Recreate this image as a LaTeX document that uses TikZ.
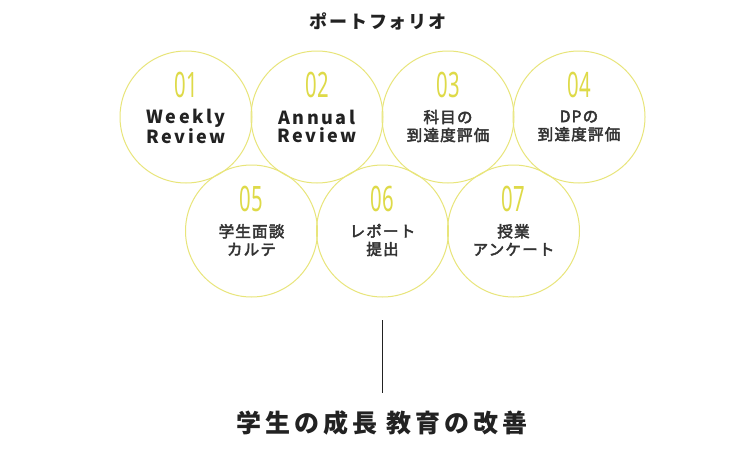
\documentclass[tikz,border=0pt]{standalone}
\usepackage{fontspec}
\usepackage{graphicx}
\setmainfont{Noto Sans CJK JP}
\newfontfamily\jp{Noto Sans CJK JP}
\newfontfamily\jpm{Noto Sans CJK JP}[FakeBold=3]
\newfontfamily\numf{Noto Sans}
\definecolor{ringc}{HTML}{E8E57A}
\definecolor{numc}{HTML}{DEDA48}
\definecolor{txtc}{HTML}{222222}
\definecolor{jtxtc}{HTML}{333333}
\newcommand{\numtxt}[1]{\scalebox{0.58}[1]{#1}}
\begin{document}
\begin{tikzpicture}[x=1pt,y=-1pt,
  ring/.style={circle, draw=ringc, line width=1pt, minimum size=132pt, inner sep=0pt},
  numlbl/.style={text=numc, inner sep=0pt, font=\numf\fontsize{35}{35}\selectfont},
  jlbl/.style={text=jtxtc, inner sep=0pt, align=center, font=\jpm\fontsize{15.5}{18}\selectfont\addfontfeature{LetterSpace=8}},
  elbl/.style={text=txtc, inner sep=0pt, align=center, font=\jp\bfseries\fontsize{18}{18}\selectfont\addfontfeature{LetterSpace=14}},
  ttl/.style={text=txtc, inner sep=0pt, font=\jp\bfseries\fontsize{18}{18}\selectfont\addfontfeature{LetterSpace=11}},
  goal/.style={text=txtc, inner sep=0pt, font=\jp\bfseries\fontsize{25}{25}\selectfont\addfontfeature{LetterSpace=16}},
  conn/.style={draw=txtc, line width=0.9pt}]
\useasboundingbox (0,0) rectangle (750,450);
\fill[white] (0,0) rectangle (750,450);

\node[ttl] (title) at (378,21) {ポートフォリオ};

\node[ring] (c1) at (186,117) {};
\node[ring] (c2) at (317,117) {};
\node[ring] (c3) at (448,117) {};
\node[ring] (c4) at (579,117) {};
\node[ring] (c5) at (251.5,231) {};
\node[ring] (c6) at (382.5,231) {};
\node[ring] (c7) at (513.5,231) {};

\node[numlbl] (n1) at ([yshift=32pt]c1.center) {\numtxt{01}};
\node[numlbl] (n2) at ([yshift=32pt]c2.center) {\numtxt{02}};
\node[numlbl] (n3) at ([yshift=32pt]c3.center) {\numtxt{03}};
\node[numlbl] (n4) at ([yshift=32pt]c4.center) {\numtxt{04}};
\node[numlbl] (n5) at ([yshift=32pt]c5.center) {\numtxt{05}};
\node[numlbl] (n6) at ([yshift=32pt]c6.center) {\numtxt{06}};
\node[numlbl] (n7) at ([yshift=32pt]c7.center) {\numtxt{07}};

\node[elbl] (l1) at ([yshift=-9pt]c1.center) {Weekly\\Review};
\node[elbl] (l2) at ([yshift=-9pt]c2.center) {Annual\\Review};
\node[jlbl] (l3) at ([yshift=-9pt]c3.center) {科目の\\到達度評価};
\node[jlbl] (l4) at ([yshift=-9pt]c4.center) {DPの\\到達度評価};
\node[jlbl] (l5) at ([yshift=-9pt]c5.center) {学生面談\\カルテ};
\node[jlbl] (l6) at ([yshift=-9pt]c6.center) {レポート\\提出};
\node[jlbl] (l7) at ([yshift=-9pt]c7.center) {授業\\アンケート};

\coordinate (ltop) at (382.5,320);
\node[goal] (g) at (382,423) {学生の成長 教育の改善};
\draw[conn] (ltop) -- (ltop |- g.north) [shorten >=18pt];
\end{tikzpicture}
\end{document}
